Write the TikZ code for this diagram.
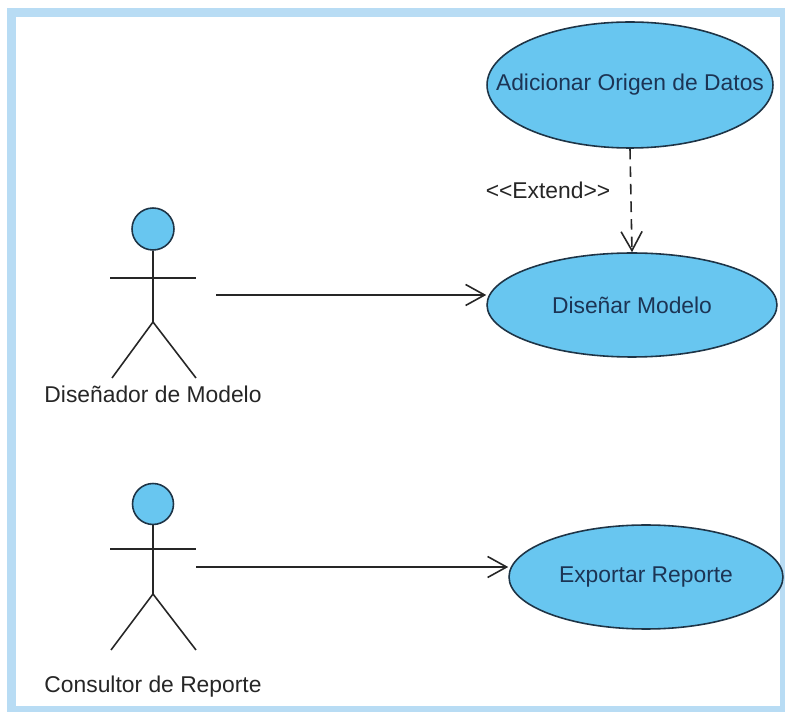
\documentclass[tikz,border=0pt]{standalone}
\usepackage{fontspec}
\setmainfont{Liberation Sans}
\usetikzlibrary{arrows.meta,shapes.geometric}

\definecolor{ucfill}{RGB}{104,198,240}
\definecolor{ucline}{RGB}{30,52,70}
\definecolor{uctext}{RGB}{28,52,84}
\definecolor{framecol}{RGB}{184,220,244}

\newcommand{\uclabel}[1]{\makebox[0pt]{#1}}

\begin{document}
\begin{tikzpicture}[x=0.02cm,y=-0.02cm,
  usecase/.style={ellipse,draw=ucline,fill=ucfill,line width=0.9pt,text=uctext,
    font=\fontsize{13}{15}\selectfont,inner sep=0pt},
  stick/.style={line width=0.9pt,draw=black!85},
  actorname/.style={font=\fontsize{13}{15}\selectfont,text=black!85},
  assoc/.style={line width=0.9pt,draw=black!85,-{Straight Barb[length=0.38cm,width=0.42cm,line width=0.9pt]}},
  extend/.style={assoc,dashed,dash pattern=on 6pt off 4pt}]
\useasboundingbox (0,0) rectangle (785,712);

% frame
\fill[framecol] (7,8) rectangle (785,712);
\fill[white] (16,17) rectangle (780,706);

% use cases
\node[usecase,minimum width=5.72cm,minimum height=2.52cm] (adicionar) at (630,85) {\uclabel{Adicionar Origen de Datos}};
\node[usecase,minimum width=5.8cm,minimum height=2.08cm] (disenar) at (632,305) {\uclabel{Diseñar Modelo}};
\node[usecase,minimum width=5.48cm,minimum height=2.08cm] (exportar) at (646,577) {\uclabel{Exportar Reporte}};

% actor: Diseñador de Modelo
\node[circle,draw=ucline,fill=ucfill,line width=0.9pt,minimum size=0.84cm,inner sep=0pt] (head1) at (153,229) {};
\draw[stick] (head1.south) -- (153,322) coordinate (hip1);
\draw[stick] (110,278) -- (196,278);
\draw[stick] (112,378) -- (hip1) -- (196,378);
\node[actorname] (actor1) at (153,394) {Diseñador de Modelo};

% actor: Consultor de Reporte
\node[circle,draw=ucline,fill=ucfill,line width=0.9pt,minimum size=0.82cm,inner sep=0pt] (head2) at (153,504) {};
\draw[stick] (head2.south) -- (153,594) coordinate (hip2);
\draw[stick] (110,549) -- (196,549);
\draw[stick] (111,650) -- (hip2) -- (196,650);
\node[actorname] (actor2) at (153,687) {Consultor de Reporte};

% connectors
\coordinate (from1) at (216,295);
\coordinate (from2) at (196,567);
\draw[assoc] (from1) -- (disenar.west |- from1);
\draw[assoc] (from2) -- (exportar.west |- from2);
\draw[extend] (adicionar.south) -- (disenar.north);
\node[text=black!85,font=\fontsize{13}{15}\selectfont] (ext) at (548,190) {<{}<Extend>{}>};

\end{tikzpicture}
\end{document}
